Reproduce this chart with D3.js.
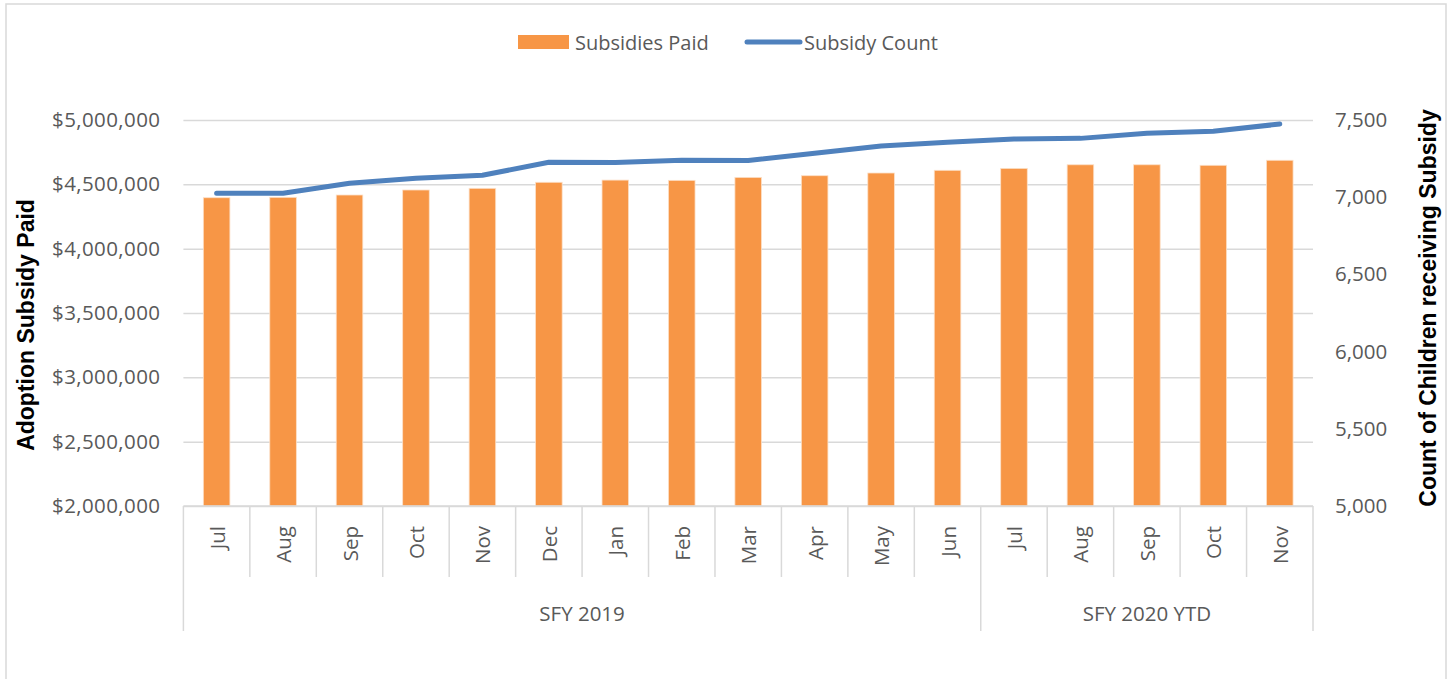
<!DOCTYPE html>
<html>
<head>
<meta charset="utf-8">
<script src="https://cdn.jsdelivr.net/npm/d3@7"></script>
<style>
  body { margin: 0; background: #fff; }
  text { font-family: "Open Sans", "Noto Sans", sans-serif; }
</style>
</head>
<body>
<script>
// months along the x axis, grouped by fiscal year
var months = ['Jul', 'Aug', 'Sep', 'Oct', 'Nov', 'Dec', 'Jan', 'Feb', 'Mar', 'Apr', 'May', 'Jun',
              'Jul', 'Aug', 'Sep', 'Oct', 'Nov'];
var groupNames = ['SFY 2019', 'SFY 2020 YTD'];
var groupSizes = [12, 5];

// series
var subsidiesPaid = [4396000, 4399000, 4417000, 4456000, 4469000, 4516000, 4533000, 4531000, 4554000,
                     4567000, 4588000, 4609000, 4624000, 4652000, 4652000, 4648000, 4687000];
var subsidyCount = [7025, 7025, 7090, 7122, 7142, 7226, 7224, 7239, 7238, 7284, 7332, 7356,
                    7377, 7381, 7414, 7427, 7474];

var leftTicks = [2000000, 2500000, 3000000, 3500000, 4000000, 4500000, 5000000];
var rightTicks = [5000, 5500, 6000, 6500, 7000, 7500];

var W = 1454, H = 679;
var margin = { top: 120, left: 183.4, right: 141, bottom: 173 };
var width = W - margin.left - margin.right,
    height = H - margin.top - margin.bottom;

var barColor = '#F79646', lineColor = '#4F81BD', gridColor = '#D9D9D9', textColor = '#595959';

var svg = d3.select('body').append('svg')
    .attr('width', W)
    .attr('height', H);

// outer chart frame
svg.append('rect')
    .attr('x', 6).attr('y', 4)
    .attr('width', 1440).attr('height', H + 10)
    .attr('fill', 'none')
    .attr('stroke', gridColor)
    .attr('stroke-width', 1.5);

var canvas = svg.append('g')
    .attr('transform', 'translate(' + margin.left + ',' + margin.top + ')');

var x = d3.scaleBand()
    .domain(d3.range(months.length))
    .range([0, width])
    .padding(0);

var y = d3.scaleLinear().domain([2000000, 5000000]).range([height, 0]);
var y2 = d3.scaleLinear().domain([5000, 7500]).range([height, 0]);

// left axis + gridlines
var leftAxis = canvas.append('g')
    .call(d3.axisLeft(y)
        .tickValues(leftTicks)
        .tickSize(-width)
        .tickPadding(23)
        .tickFormat(function (d) { return '$' + d3.format(',')(d); }));
leftAxis.select('.domain').remove();
leftAxis.selectAll('line').attr('stroke', gridColor).attr('stroke-width', 1.5);
leftAxis.selectAll('text').attr('fill', textColor).attr('font-size', 20.5)
    .attr('letter-spacing', 0.4)
    .style('font-family', '"Open Sans", sans-serif');

// right axis labels
var rightAxis = canvas.append('g')
    .attr('transform', 'translate(' + width + ',0)')
    .call(d3.axisRight(y2)
        .tickValues(rightTicks)
        .tickSize(0)
        .tickPadding(22)
        .tickFormat(d3.format(',')));
rightAxis.select('.domain').remove();
rightAxis.selectAll('text').attr('fill', textColor).attr('font-size', 20.5)
    .style('font-family', '"Open Sans", sans-serif');

// bars
var barW = x.bandwidth() * 0.4;
canvas.selectAll('.bar')
    .data(subsidiesPaid)
    .enter()
    .append('rect')
    .attr('class', 'bar')
    .attr('x', function (d, i) { return x(i) + (x.bandwidth() - barW) / 2; })
    .attr('y', function (d) { return y(d); })
    .attr('width', barW)
    .attr('height', function (d) { return height - y(d); })
    .attr('fill', barColor)
    .attr('stroke', '#FCE0C8')
    .attr('stroke-width', 0.8);

// line
var line = d3.line()
    .x(function (d, i) { return x(i) + x.bandwidth() / 2; })
    .y(function (d) { return y2(d); });

canvas.append('path')
    .datum(subsidyCount)
    .attr('d', line)
    .attr('fill', 'none')
    .attr('stroke', lineColor)
    .attr('stroke-width', 5)
    .attr('stroke-linecap', 'round')
    .attr('stroke-linejoin', 'round');

// category axis
var bottom = canvas.append('g').attr('transform', 'translate(0,' + height + ')');
bottom.append('line')
    .attr('x1', 0).attr('x2', width)
    .attr('y1', 0).attr('y2', 0)
    .attr('stroke', gridColor).attr('stroke-width', 1.5);

// group boundaries (index where each group starts)
var starts = [0];
groupSizes.forEach(function (n, i) { starts.push(starts[i] + n); });

d3.range(months.length + 1).forEach(function (i) {
    var isGroupEdge = starts.indexOf(i) >= 0;
    var xi = i < months.length ? x(i) : width;
    bottom.append('line')
        .attr('x1', xi).attr('x2', xi)
        .attr('y1', 0).attr('y2', isGroupEdge ? 125 : 71)
        .attr('stroke', gridColor).attr('stroke-width', 1.5);
});

bottom.selectAll('.month')
    .data(months)
    .enter()
    .append('text')
    .attr('class', 'month')
    .attr('transform', function (d, i) {
        return 'translate(' + (x(i) + x.bandwidth() / 2) + ',20) rotate(-90)';
    })
    .attr('text-anchor', 'end')
    .attr('dominant-baseline', 'central')
    .attr('font-size', 20.5)
    .attr('fill', textColor)
    .text(function (d) { return d; });

bottom.selectAll('.group')
    .data(groupNames)
    .enter()
    .append('text')
    .attr('class', 'group')
    .attr('x', function (d, i) {
        var x0 = x(starts[i]);
        var x1 = starts[i + 1] < months.length ? x(starts[i + 1]) : width;
        return (x0 + x1) / 2;
    })
    .attr('y', 107)
    .attr('text-anchor', 'middle')
    .attr('dominant-baseline', 'central')
    .attr('font-size', 20.5)
    .attr('fill', textColor)
    .text(function (d) { return d; });

// axis titles
svg.append('text')
    .attr('transform', 'translate(26,' + (margin.top + height / 2 + 12) + ') rotate(-90)')
    .attr('text-anchor', 'middle')
    .attr('dominant-baseline', 'central')
    .style('font-family', '"Liberation Sans", Arial, sans-serif')
    .attr('font-weight', 'bold')
    .attr('font-size', 23)
    .attr('fill', '#000')
    .text('Adoption Subsidy Paid');

svg.append('text')
    .attr('transform', 'translate(1428,' + 308 + ') rotate(-90)')
    .attr('text-anchor', 'middle')
    .attr('dominant-baseline', 'central')
    .style('font-family', '"Liberation Sans", Arial, sans-serif')
    .attr('font-weight', 'bold')
    .attr('font-size', 23)
    .attr('fill', '#000')
    .text('Count of Children receiving Subsidy');

// legend
var legend = svg.append('g').attr('class', 'legend');
legend.append('rect')
    .attr('x', 518).attr('y', 35)
    .attr('width', 51).attr('height', 14)
    .attr('fill', barColor);
legend.append('text')
    .attr('x', 575).attr('y', 42)
    .attr('dominant-baseline', 'central')
    .attr('font-size', 20)
    .attr('fill', textColor)
    .text('Subsidies Paid');
legend.append('line')
    .attr('x1', 747).attr('x2', 800)
    .attr('y1', 42).attr('y2', 42)
    .attr('stroke', lineColor)
    .attr('stroke-width', 5)
    .attr('stroke-linecap', 'round');
legend.append('text')
    .attr('x', 804).attr('y', 42)
    .attr('dominant-baseline', 'central')
    .attr('font-size', 20)
    .attr('fill', textColor)
    .text('Subsidy Count');
</script>
</body>
</html>
